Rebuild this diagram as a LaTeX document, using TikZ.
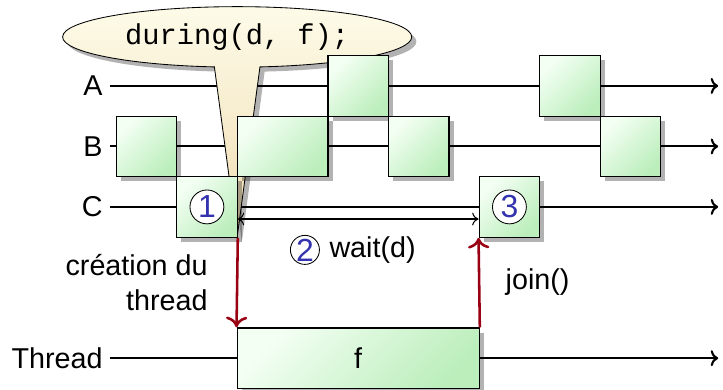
\documentclass[tikz,border=0pt]{standalone}
\usepackage{fontspec}
\setmainfont{Liberation Sans}
\setmonofont{Liberation Mono}
\usetikzlibrary{positioning,shapes.callouts,shadows,arrows.meta}

\definecolor{tachehaut}{RGB}{244,255,244}
\definecolor{tachebas}{RGB}{188,238,188}
\definecolor{bullehaut}{RGB}{253,251,232}
\definecolor{bullebas}{RGB}{240,220,178}
\definecolor{numbleu}{RGB}{51,51,175}
\definecolor{rougefonce}{RGB}{153,0,18}

\newcommand\taille{\fontsize{13.5}{16.5}\selectfont}

\tikzset{
  fil/.style={line width=1pt, -{To[length=3.5pt,width=7.5pt]}},
  ombre/.style={drop shadow={shadow xshift=2.2pt, shadow yshift=-2.2pt, opacity=0.3, fill=black}},
  tache/.style={draw, line width=0.6pt, top color=tachehaut, bottom color=tachebas,
    shading angle=45, ombre, minimum height=1cm, inner sep=0pt},
  numero/.style={circle, draw, fill=white, text=numbleu, minimum size=0.56cm,
    inner sep=0pt, font=\fontsize{15}{17}\selectfont},
  bulle/.style={ellipse callout, draw, top color=bullehaut, bottom color=bullebas, ombre,
    minimum width=5.77cm, minimum height=1cm, inner sep=0pt, font=\taille\ttfamily},
  lien/.style={very thick, rougefonce, -{To[length=5pt,width=10pt]}},
  legende/.style={text=black},
}

\begin{document}
\begin{tikzpicture}[font=\taille]
\useasboundingbox (-1.92,-3.01) rectangle (10.03,3.42);

% les fils d'execution
\foreach \nom/\y in {A/2,B/1,C/0,Thread/-2.5} {
  \node[anchor=east] (lab\nom) at (-0.1,\y) {\nom};
  \coordinate (fin\nom) at (9.95,\y);
  \draw[fil] (lab\nom.east) -- (fin\nom);
}

% la bulle
\coordinate (appel) at (2,-0.5);
\node[bulle, callout absolute pointer={(appel)}] (code) at (2,2.81) {during(d, f);};

% les taches
\node[tache, minimum width=1cm] (a1) at (4,2) {};
\node[tache, minimum width=1cm] (a2) at (7.5,2) {};
\node[tache, minimum width=1cm] (b1) at (0.5,1) {};
\node[tache, minimum width=1.5cm] (b2) at (2.75,1) {};
\node[tache, minimum width=1cm] (b3) at (5,1) {};
\node[tache, minimum width=1cm] (b4) at (8.5,1) {};
\node[tache, minimum width=1cm] (c1) at (1.5,0) {};
\node[tache, minimum width=1cm] (c2) at (6.5,0) {};
\node[tache, minimum width=4cm] (f) at (4,-2.5) {f};

\node[numero] (n1) at (c1) {1};
\node[numero] (n3) at (c2) {3};

% attente
\draw[line width=0.5pt, {To[length=3pt,width=6pt]}-{To[length=3pt,width=6pt]}]
  ([yshift=-0.2cm]c1.east) -- ([yshift=-0.2cm]c2.west);
\node[numero, minimum size=0.48cm] (n2) at (3.12,-0.71) {2};
\node[right=1pt of n2] (attente) {wait(d)};

% creation et join
\draw[lien] (c1.south east) -- (f.north west)
  node[legende, midway, left=3.5mm, align=right] (creation) {création du\\thread};
\draw[lien] (f.north east) -- (c2.south west)
  node[legende, midway, right=3mm] (join) {join()};
\end{tikzpicture}
\end{document}
